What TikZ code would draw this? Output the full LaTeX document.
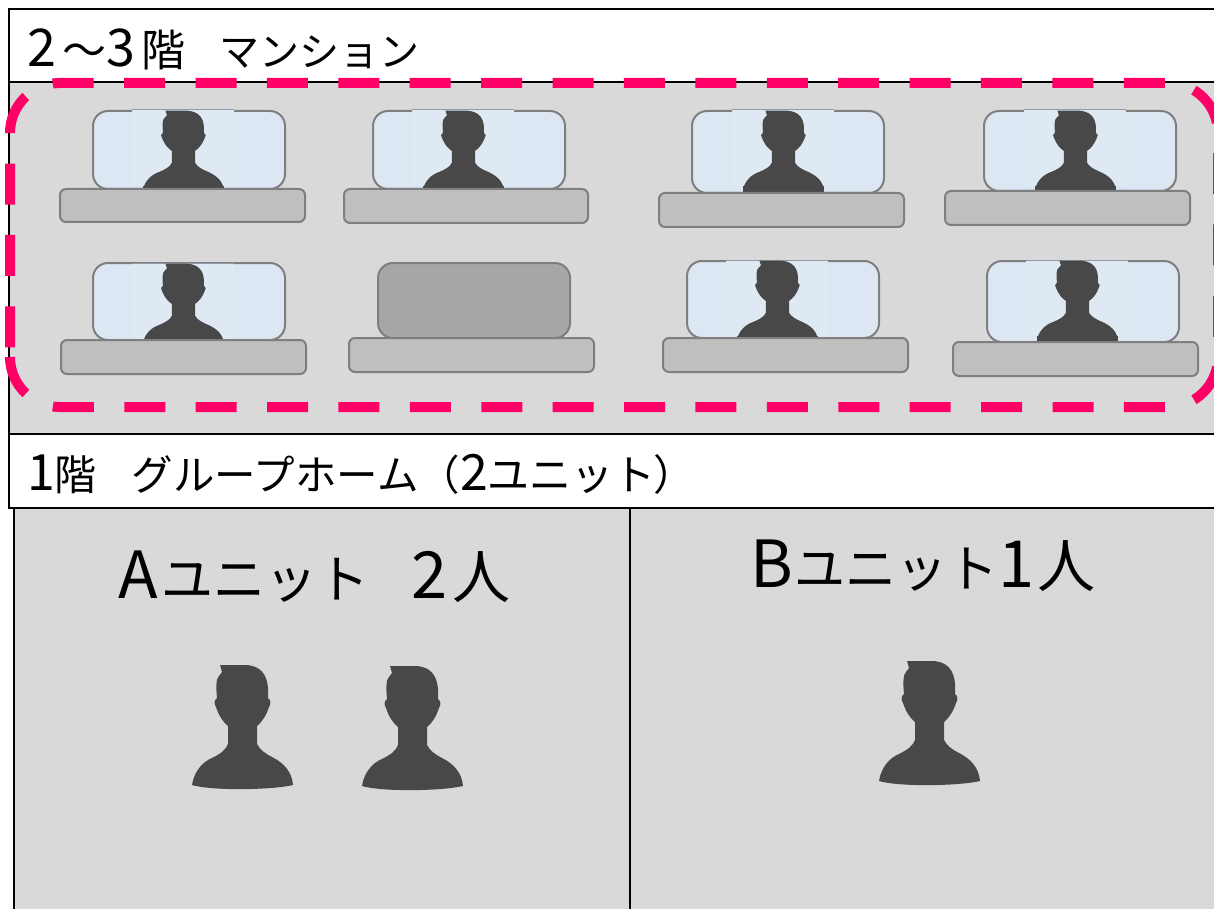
\documentclass[tikz,border=0pt]{standalone}
\usepackage{fontspec}
\setmainfont{Noto Sans CJK JP}
\definecolor{panelgray}{HTML}{D9D9D9}
\definecolor{screenblue}{HTML}{DCE7F3}
\definecolor{patchblue}{HTML}{DEE9F4}
\definecolor{patchline}{HTML}{8F9BA8}
\definecolor{deskgray}{HTML}{BFBFBF}
\definecolor{edgegray}{HTML}{7F7F7F}
\definecolor{closedgray}{HTML}{A6A6A6}
\definecolor{figure}{HTML}{484848}
\definecolor{hotpink}{HTML}{FF0066}
\newcommand{\fs}[1]{\fontsize{#1}{#1}\selectfont}
\tikzset{
  x=1pt,y=-1pt,
  framebox/.style={draw=black,line width=2pt},
  whitepanel/.style={framebox,fill=white},
  graypanel/.style={framebox,fill=panelgray},
  screenbox/.style={draw=edgegray,line width=2pt,fill=screenblue,rounded corners=15pt},
  closedbox/.style={draw=edgegray,line width=2pt,fill=closedgray,rounded corners=15pt},
  deskbox/.style={draw=edgegray,line width=2pt,fill=deskgray,rounded corners=6pt},
  caption/.style={anchor=base west,inner sep=0pt,text=black},
  pics/person/.style={code={
    \fill[figure] (-22,1) -- (5,1)
      .. controls (18,2) and (25,10) .. (26,24) -- (26,34)
      .. controls (29,36) and (29,40) .. (27,43)
      .. controls (24,52) and (20,58) .. (15,62) -- (15,80)
      .. controls (18,86) and (24,90) .. (30,93)
      .. controls (42,99) and (50,108) .. (51,121)
      .. controls (30,126) and (-30,127) .. (-50,121)
      .. controls (-48,108) and (-40,98) .. (-30,94)
      .. controls (-22,90) and (-16,86) .. (-14,80) -- (-14,62)
      .. controls (-19,58) and (-23,52) .. (-26,43)
      .. controls (-28,40) and (-28,36) .. (-25,34)
      .. controls (-26,24) and (-26,14) .. (-23,12) -- (-20,8) -- cycle;
  }},
  pics/patch/.style={code={
    \fill[patchblue] (-51,0) rectangle (51,76);
    \draw[patchline,line width=1pt] (-51,0) -- (51,0);
  }}
}
\newcommand{\station}[9]{%
  \draw[screenbox] (#1,#2) rectangle (#3,#4);
  \pic at (#5,#6) {patch};
  \pic[xscale=.8,yscale=.66] at (#5,#6) {person};
  \fill[figure] ({#5-40},{#6+76}) rectangle ({#5+41},#4);
  \draw[deskbox] (#7,#4) rectangle (#8,#9);
}
\begin{document}
\begin{tikzpicture}
\useasboundingbox (0,0) rectangle (1214,909);
\clip (0,0) rectangle (1214,909);
\draw[whitepanel] (9,9) rectangle (1230,82);
\draw[graypanel] (9,82) rectangle (1230,434);
\draw[whitepanel] (9,434) rectangle (1230,508);
\draw[graypanel] (14,508) rectangle (630,930);
\draw[graypanel] (630,508) rectangle (1230,930);

\node[caption] (upper) at (27,67) {\fs{52}2\fs{44}\hspace{6pt}～\fs{52}3\hspace{7pt}\fs{44}階\hspace{34pt}\fs{40}マンション};
\node[caption] (lower) at (27,490) {\fs{50}1\fs{42}階\hspace{35pt}\fs{41.5}グループホーム（\fs{50}2\fs{42}ユニット\hspace{-2pt}）};
\node[caption] (unita) at (118,598) {\fs{65}A\hspace{4pt}\fs{52}ユニット\hspace{42pt}\fs{65}2\hspace{5pt}\fs{58}人};
\node[caption] (unitb) at (750,587) {\fs{65}B\hspace{2pt}\fs{51}ユニット\fs{65}1\hspace{3pt}\fs{58}人};

\station{93}{111}{285}{189}{183}{110}{60}{305}{222}
\station{373}{111}{565}{189}{463}{110}{344}{588}{223}
\station{692}{111}{884}{193}{783}{110}{659}{904}{227}
\station{984}{111}{1176}{191}{1075}{110}{945}{1190}{225}
\station{93}{263}{285}{340}{183}{263}{61}{306}{374}
\draw[closedbox] (378,263) rectangle (570,338);
\draw[deskbox] (349,338) rectangle (594,372);
\station{687}{261}{879}{338}{777}{260}{663}{908}{372}
\station{987}{261}{1179}{342}{1077}{260}{953}{1198}{376}

\pic at (242,664) {person};
\pic at (412,665) {person};
\pic at (929,660) {person};

\draw[hotpink,line width=10pt,dash pattern=on 41pt off 30.4pt]
  (10,357) .. controls (10,384.6) and (32.4,407) .. (60,407)
  -- (1168,407) .. controls (1195.6,407) and (1218,384.6) .. (1218,357)
  -- (1218,133) .. controls (1218,105.4) and (1195.6,83) .. (1168,83)
  -- (60,83) .. controls (32.4,83) and (10,105.4) .. (10,133)
  -- (10,357);
\end{tikzpicture}
\end{document}
